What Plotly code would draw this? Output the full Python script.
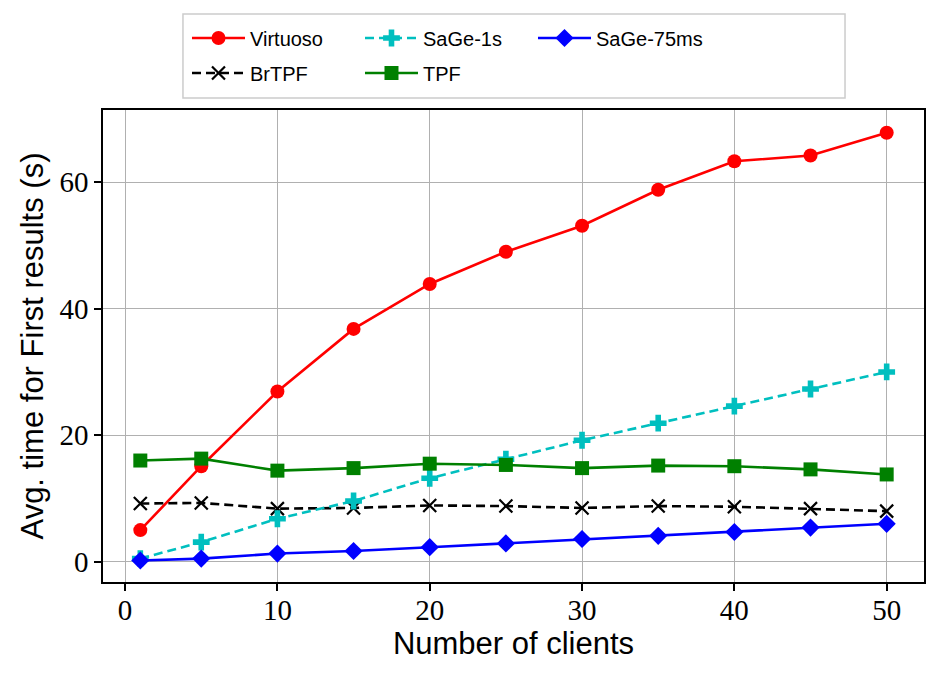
import plotly.graph_objects as go

clients = [1, 5, 10, 15, 20, 25, 30, 35, 40, 45, 50]
virtuoso = [5.0, 15.1, 26.9, 36.8, 43.9, 49.0, 53.1, 58.8, 63.3, 64.2, 67.8]
brtpf = [9.2, 9.3, 8.4, 8.5, 8.9, 8.8, 8.5, 8.8, 8.7, 8.4, 8.0]
sage_1s = [0.5, 3.1, 6.8, 9.6, 13.2, 16.2, 19.2, 21.9, 24.6, 27.3, 30.0]
tpf = [16.0, 16.3, 14.4, 14.8, 15.5, 15.3, 14.8, 15.2, 15.1, 14.6, 13.8]
sage_75ms = [0.2, 0.5, 1.3, 1.7, 2.3, 2.9, 3.6, 4.1, 4.7, 5.4, 6.0]

x_ticks = [0, 10, 20, 30, 40, 50]
y_ticks = [0, 20, 40, 60]

# name, values, color, dash, symbol, size, legend row, rank
series = [
    ("Virtuoso", virtuoso, "#ff0000", "solid", "circle", 14, "legend", 1),
    ("BrTPF", brtpf, "#000000", "9px,5px", "x-thin-open", 13, "legend2", 1),
    ("SaGe-1s", sage_1s, "#00bfbf", "9px,5px", "cross", 14, "legend", 2),
    ("TPF", tpf, "#008000", "solid", "square", 14, "legend2", 2),
    ("SaGe-75ms", sage_75ms, "#0000ff", "solid", "diamond", 14, "legend", 3),
]

fig = go.Figure()
for name, vals, color, dash, sym, size, leg, rank in series:
    marker = dict(symbol=sym, size=size, color=color)
    if sym == "x-thin-open":
        marker["line"] = dict(width=2.2, color=color)
    else:
        marker["line"] = dict(width=0)
    fig.add_trace(go.Scatter(
        x=clients, y=vals, name=name, mode="lines+markers",
        line=dict(color=color, width=2.6, dash=dash),
        marker=marker, legend=leg, legendrank=rank,
    ))

axis_common = dict(
    showline=True, mirror=True, linecolor="black", linewidth=1.5,
    ticks="outside", ticklen=7, tickwidth=1.5, tickcolor="black",
    showgrid=True, gridcolor="#b0b0b0", gridwidth=1,
    zeroline=False,
    tickfont=dict(family="Liberation Serif", size=29, color="black"),
)

fig.update_xaxes(
    range=[-1.45, 52.45], tickvals=x_ticks, ticklabelstandoff=-6,
    title=dict(text="Number of clients", font=dict(family="Liberation Sans", size=31, color="black"), standoff=8),
    **axis_common,
)
fig.update_yaxes(
    range=[-3.2, 71.4], tickvals=y_ticks,
    title=dict(text="Avg. time for First results (s)", font=dict(family="Liberation Sans", size=31, color="black"), standoff=7),
    **axis_common,
)

legend_common = dict(
    orientation="h", x=0.1023, xanchor="left", yanchor="middle",
    entrywidth=105, entrywidthmode="pixels", itemwidth=53,
    font=dict(family="Liberation Sans", size=20, color="black"),
    bgcolor="rgba(0,0,0,0)", borderwidth=0, traceorder="normal",
)

fig.update_layout(
    width=947, height=680,
    margin=dict(l=103, r=23, t=110, b=98),
    plot_bgcolor="white", paper_bgcolor="white",
    legend=dict(y=1.1525, **legend_common),
    legend2=dict(y=1.0784, **legend_common),
    shapes=[dict(
        type="rect", xref="paper", yref="paper",
        x0=0.0974, x1=0.9038, y0=1.0254, y1=1.2034,
        line=dict(color="#cccccc", width=1.5), fillcolor="white", layer="below",
    )],
)

fig.write_html("out.html")
